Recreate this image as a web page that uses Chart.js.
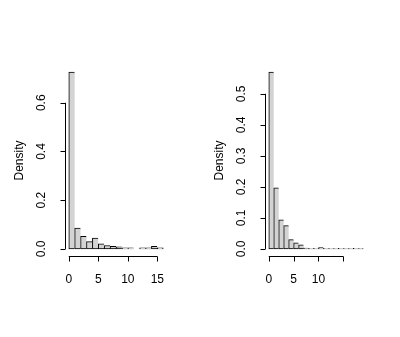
<!DOCTYPE html>
<html>
<head>
<meta charset="utf-8">
<script src="https://cdn.jsdelivr.net/npm/chart.js@4"></script>
<style>
  body { margin: 0; background: #fff; }
  .wrap { display: flex; width: 400px; height: 337px; }
  .panel { position: relative; width: 200px; height: 337px; }
</style>
</head>
<body>
<div class="wrap">
  <div class="panel"><canvas id="histLeft"></canvas></div>
  <div class="panel"><canvas id="histRight"></canvas></div>
</div>
<script>
// Left histogram: bins of width 1 starting at 0
const leftDensity = [0.726, 0.086, 0.052, 0.030, 0.045, 0.021, 0.014, 0.011, 0.009, 0.005, 0.005, 0, 0.005, 0.005, 0.011, 0.004];
const leftXTicks = [0, 5, 10, 15];
const leftXLabels = ['0', '5', '10', '15'];
const leftYTicks = [0, 0.2, 0.4, 0.6];
const leftYLabels = ['0.0', '0.2', '0.4', '0.6'];

// Right histogram
const rightDensity = [0.570, 0.197, 0.094, 0.075, 0.030, 0.020, 0.013, 0.003, 0.002, 0.002, 0.004, 0.002, 0.001, 0.001, 0.002, 0.001, 0.001, 0.002, 0.001];
const rightXTicks = [0, 5, 10, 15];
const rightXLabels = ['0', '5', '10', ''];
const rightYTicks = [0, 0.1, 0.2, 0.3, 0.4, 0.5];
const rightYLabels = ['0.0', '0.1', '0.2', '0.3', '0.4', '0.5'];

const binWidth = 1;
const FONT = '12px "Liberation Sans", Arial, sans-serif';

// draws R-style detached axes using the chart's own scales
const rAxes = {
  id: 'rAxes',
  afterDraw(chart, args, opts) {
    const { ctx, chartArea } = chart;
    const xs = chart.scales.x, ys = chart.scales.y;
    const tick = 5;
    ctx.save();
    ctx.strokeStyle = '#000';
    ctx.fillStyle = '#000';
    ctx.lineWidth = 1;
    ctx.font = FONT;

    // y axis
    const ax = Math.round(chartArea.left) + 0.5;
    ctx.beginPath();
    ctx.moveTo(ax, ys.getPixelForValue(opts.yTicks[0]));
    ctx.lineTo(ax, ys.getPixelForValue(opts.yTicks[opts.yTicks.length - 1]));
    opts.yTicks.forEach(v => {
      const p = Math.round(ys.getPixelForValue(v)) + 0.5;
      ctx.moveTo(ax, p);
      ctx.lineTo(ax - tick, p);
    });
    ctx.stroke();
    ctx.textAlign = 'center';
    ctx.textBaseline = 'middle';
    opts.yTicks.forEach((v, i) => {
      ctx.save();
      ctx.translate(ax - 24, ys.getPixelForValue(v));
      ctx.rotate(-Math.PI / 2);
      ctx.fillText(opts.yLabels[i], 0, 0);
      ctx.restore();
    });

    // x axis
    const ay = Math.round(chartArea.bottom) + 0.5;
    ctx.beginPath();
    ctx.moveTo(xs.getPixelForValue(opts.xTicks[0]), ay);
    ctx.lineTo(xs.getPixelForValue(opts.xTicks[opts.xTicks.length - 1]), ay);
    opts.xTicks.forEach(v => {
      const p = Math.round(xs.getPixelForValue(v)) + 0.5;
      ctx.moveTo(p, ay);
      ctx.lineTo(p, ay + tick);
    });
    ctx.stroke();
    opts.xTicks.forEach((v, i) => {
      ctx.fillText(opts.xLabels[i], xs.getPixelForValue(v), ay + 23);
    });

    // axis title
    ctx.save();
    ctx.translate(20, (chartArea.top + chartArea.bottom) / 2);
    ctx.rotate(-Math.PI / 2);
    ctx.fillText('Density', 0, 0);
    ctx.restore();

    ctx.restore();
  }
};

function makeHist(id, density, xTicks, xLabels, yTicks, yLabels) {
  const nBins = density.length;
  const ymax = Math.max(...density);
  const points = density.map((d, i) => ({ x: (i + 0.5) * binWidth, y: d }));
  const xr = nBins * binWidth;
  return new Chart(document.getElementById(id), {
    type: 'bar',
    data: {
      datasets: [{
        data: points,
        backgroundColor: '#d3d3d3',
        borderColor: '#000',
        // single shared edge between neighbouring bins, like R's rect outlines
        borderWidth: c => ({ top: 1, left: 1, bottom: 1, right: c.dataIndex === nBins - 1 ? 1 : 0 }),
        borderSkipped: false,
        barPercentage: 1,
        categoryPercentage: 1,
        grouped: false
      }]
    },
    options: {
      responsive: false,
      animation: false,
      devicePixelRatio: 1,
      layout: { padding: { left: 65, right: 33, top: 65, bottom: 81 } },
      plugins: {
        legend: { display: false },
        tooltip: { enabled: false },
        rAxes: { xTicks, xLabels, yTicks, yLabels }
      },
      scales: {
        x: { type: 'linear', display: false, offset: false, min: -0.04 * xr, max: xr * 1.04 },
        y: { display: false, min: -0.04 * ymax, max: ymax * 1.04 }
      }
    },
    plugins: [rAxes]
  });
}

document.getElementById('histLeft').width = 200;
document.getElementById('histLeft').height = 337;
document.getElementById('histRight').width = 200;
document.getElementById('histRight').height = 337;

makeHist('histLeft', leftDensity, leftXTicks, leftXLabels, leftYTicks, leftYLabels);
makeHist('histRight', rightDensity, rightXTicks, rightXLabels, rightYTicks, rightYLabels);
</script>
</body>
</html>
